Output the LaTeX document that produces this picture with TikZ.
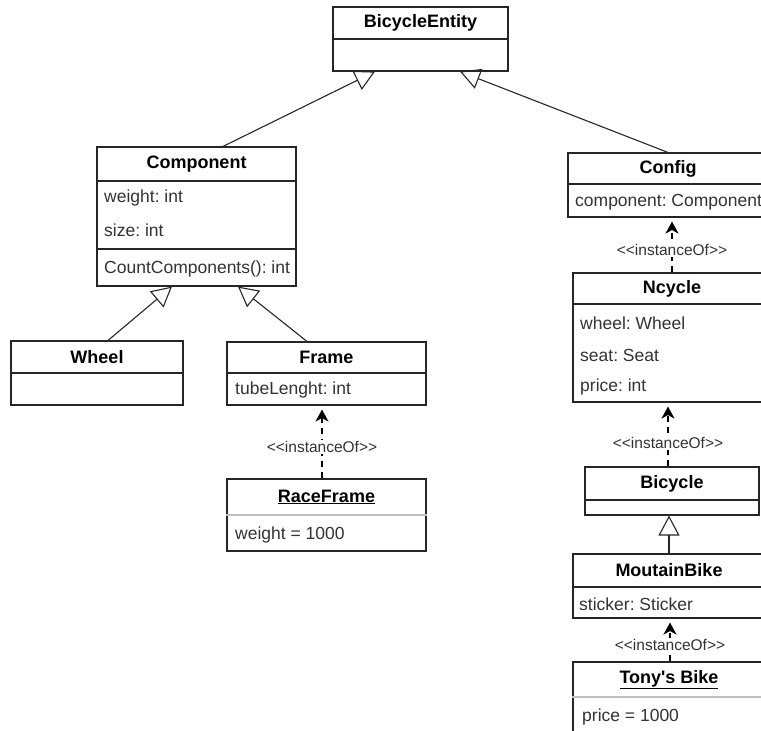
\documentclass[tikz,border=0pt]{standalone}
\usepackage{fontspec}
\setmainfont{Liberation Sans}
\frenchspacing
\usetikzlibrary{arrows.meta}
\tikzset{
    umlbox/.style={rectangle, draw=black!85, line width=1.1pt, fill=white, inner sep=0mm},
    cname/.style={font=\bfseries\fontsize{18}{21}\selectfont, inner sep=0mm},
    attr/.style={font=\fontsize{17.5}{21}\selectfont, text=black!80, anchor=west, inner sep=0mm},
    sep/.style={draw=black!85, line width=1.1pt},
    lightsep/.style={draw=black!25, line width=1.1pt},
    gen/.style={draw=black!85, line width=1.1pt, -{Triangle[open, length=20pt, width=21pt]}},
    inst/.style={draw=black, line width=2pt, dash pattern=on 6pt off 5pt,
        -{Stealth[length=12pt, width=13pt, inset=3.5pt]}, shorten >=4pt},
    instlabel/.style={font=\fontsize{15.5}{18}\selectfont, text=black!80, fill=white, inner sep=1pt}
}

\begin{document}
\begin{tikzpicture}[x=1pt, y=-1pt]
    \clip (0,0) rectangle (761,731);

    \node (entity) [umlbox, minimum width=175pt, minimum height=64pt] at (420.5, 39) {};
    \node (comp) [umlbox, minimum width=199pt, minimum height=139pt] at (196.5, 216.5) {};
    \node (wheel) [umlbox, minimum width=172pt, minimum height=64pt] at (97, 373) {};
    \node (frame) [umlbox, minimum width=199pt, minimum height=63pt] at (326.5, 373.5) {};
    \node (race) [umlbox, minimum width=199pt, minimum height=72pt] at (326.5, 515) {};
    \node (config) [umlbox, minimum width=200pt, minimum height=64pt] at (668, 185) {};
    \node (ncycle) [umlbox, minimum width=198pt, minimum height=129pt] at (672, 337.5) {};
    \node (bicycle) [umlbox, minimum width=174pt, minimum height=48pt] at (672, 491) {};
    \node (mtb) [umlbox, minimum width=192pt, minimum height=64pt] at (669, 586) {};
    \node (tony) [umlbox, minimum width=192pt, minimum height=78pt] at (669, 701) {};

    \draw[sep] (entity.west |- 0,39) -- (entity.east |- 0,39);
    \draw[sep] (comp.west |- 0,181) -- (comp.east |- 0,181);
    \draw[sep] (comp.west |- 0,249) -- (comp.east |- 0,249);
    \draw[sep] (wheel.west |- 0,373) -- (wheel.east |- 0,373);
    \draw[sep] (frame.west |- 0,373) -- (frame.east |- 0,373);
    \draw[lightsep] (race.west |- 0,515) -- (race.east |- 0,515);
    \draw[sep] (config.west |- 0,184) -- (config.east |- 0,184);
    \draw[sep] (ncycle.west |- 0,304) -- (ncycle.east |- 0,304);
    \draw[sep] (bicycle.west |- 0,500) -- (bicycle.east |- 0,500);
    \draw[sep] (mtb.west |- 0,587) -- (mtb.east |- 0,587);
    \draw[lightsep] (tony.west |- 0,697) -- (tony.east |- 0,697);

    \node (entity-t) [cname] at (420.5, 23) {BicycleEntity};
    \node (comp-t) [cname] at (196.5, 164) {Component};
    \node (comp-a1) [attr] at (104, 198) {weight: int};
    \node (comp-a2) [attr] at (104, 230) {size: int};
    \node (comp-m1) [attr] at (104, 269) {CountComponents(): int};
    \node (wheel-t) [cname] at (97, 357) {Wheel};
    \node (frame-t) [cname] at (326.5, 357.5) {Frame};
    \node (frame-a1) [attr] at (235, 390) {tubeLenght: int};
    \node (race-t) [cname] at (326.5, 497) {\underline{RaceFrame}};
    \node (race-a1) [attr] at (235, 535) {weight = 1000};
    \node (config-t) [cname] at (668, 169) {Config};
    \node (config-a1) [attr] at (575, 202) {component: Component};
    \node (ncycle-t) [cname] at (672, 288.5) {Ncycle};
    \node (ncycle-a1) [attr] at (580, 323) {wheel: Wheel};
    \node (ncycle-a2) [attr] at (580, 355) {seat: Seat};
    \node (ncycle-a3) [attr] at (580, 387) {price: int};
    \node (bicycle-t) [cname] at (672, 483.5) {Bicycle};
    \node (mtb-t) [cname] at (669, 570.5) {MoutainBike};
    \node (mtb-a1) [attr] at (579, 604) {sticker: Sticker};
    \node (tony-t) [cname] at (669, 679.5) {\underline{Tony\textquotesingle s Bike}};
    \node (tony-a1) [attr] at (582, 717) {price = 1000};

    \draw[gen] ([xshift=26.5pt]comp.north) -- ([xshift=-45.5pt]entity.south);
    \draw[gen] (config.north) -- ([xshift=39.5pt]entity.south);
    \draw[gen] ([xshift=11pt]wheel.north) -- ([xshift=-24.5pt]comp.south);
    \draw[gen] ([xshift=-19.5pt]frame.north) -- ([xshift=41.5pt]comp.south);
    \draw[gen] (mtb.north) -- (mtb.north |- bicycle.south);

    \draw[inst] ([xshift=-4.5pt]race.north) -- node[instlabel, pos=0.43] (race-l) {<{}<instanceOf>{}>} ([xshift=-4.5pt]frame.south);
    \draw[inst] (ncycle.north) -- node[instlabel, pos=0.41] (ncycle-l) {<{}<instanceOf>{}>} (ncycle.north |- config.south);
    \draw[inst] ([xshift=-4pt]bicycle.north) -- node[instlabel, pos=0.37] (bicycle-l) {<{}<instanceOf>{}>} ([xshift=-4pt]bicycle.north |- ncycle.south);
    \draw[inst] ([xshift=1pt]tony.north) -- node[instlabel, pos=0.39] (tony-l) {<{}<instanceOf>{}>} ([xshift=1pt]tony.north |- mtb.south);
\end{tikzpicture}
\end{document}
